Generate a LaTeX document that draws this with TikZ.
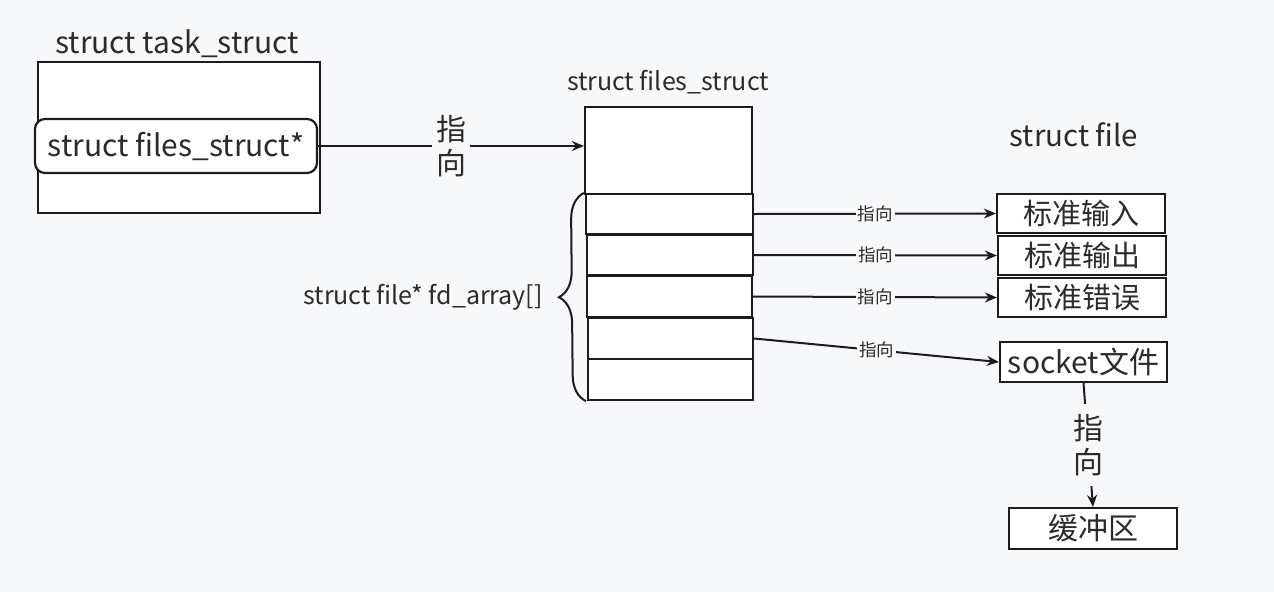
\documentclass[tikz,border=0pt]{standalone}
\usepackage{fontspec}
\setmainfont{Noto Sans CJK SC}
\usetikzlibrary{arrows.meta,decorations.pathreplacing}
\definecolor{bg}{HTML}{F7F8FA}
\definecolor{ln}{HTML}{1E1B1F}
\definecolor{tx}{HTML}{2B2B2B}
\begin{document}
\begin{tikzpicture}[x=1pt,y=-1pt,
  box/.style={draw=ln,line width=2.2pt,fill=white,inner sep=0pt,text=tx},
  lbl/.style={text=tx,inner sep=0pt},
  arr/.style={draw=ln,line width=2pt,-{Stealth[length=12pt,width=10pt]}},
  tag/.style={fill=bg,text=tx,inner sep=2pt,font=\fontsize{17.5}{20}\selectfont},
  vtag/.style={fill=bg,text=tx,inner xsep=4pt,inner ysep=10pt,align=center,font=\fontsize{30}{34}\selectfont},
  big/.style={font=\fontsize{30}{34}\selectfont},
  cn/.style={font=\fontsize{29}{32}\selectfont},
]
\fill[bg] (0,0) rectangle (1274,592);
\useasboundingbox (0,0) rectangle (1274,592);

% task_struct
\node[lbl,big] (tasktitle) at (177,44) {struct task\_struct};
\node[box,minimum width=282,minimum height=151] (task) at (179,137.5) {};
\node[box,big,rounded corners=10pt,minimum width=282,minimum height=54] (fptr) at (176,146) {struct files\_struct*};

% files_struct
\node[lbl,font=\fontsize{25}{28}\selectfont] (fstitle) at (668,82) {struct files\_struct};
\node[box,minimum width=167,minimum height=87] (fstop) at (668.5,150.5) {};
\node[box,minimum width=167,minimum height=40] (cell1) at (669.5,214) {};
\node[box,minimum width=166,minimum height=40] (cell2) at (670,255) {};
\node[box,minimum width=165,minimum height=41] (cell3) at (669.5,296.5) {};
\node[box,minimum width=165,minimum height=41] (cell4) at (670.5,338.5) {};
\node[box,minimum width=165,minimum height=41] (cell5) at (670.5,379.5) {};

\draw[ln,line width=2pt,decorate,decoration={brace,amplitude=26pt,aspect=0.5}]
  ([xshift=-1pt]cell5.south west) -- ([xshift=-1pt]cell1.north west);
\node[lbl,anchor=east,font=\fontsize{25}{28}\selectfont] (fdlbl) at (543,297) {struct file* fd\_array[]};

% struct file
\node[lbl,font=\fontsize{29.5}{33}\selectfont] (sftitle) at (1074,135) {struct file};
\node[box,cn,minimum width=168,minimum height=39] (stdin) at (1081,213.5) {标准输入};
\node[box,cn,minimum width=168,minimum height=39] (stdout) at (1082,255.5) {标准输出};
\node[box,cn,minimum width=168,minimum height=39] (stderr) at (1082,297.5) {标准错误};
\node[box,big,minimum width=167,minimum height=40] (sock) at (1083.5,362) {socket文件};
\node[box,font=\fontsize{30}{33}\selectfont,minimum width=168,minimum height=41] (buf) at (1093,528.5) {缓冲区};

% connectors
\draw[arr] (fptr.east) -- (fptr.east -| fstop.west) node[vtag,midway,inner ysep=0pt] {指\\向};
\draw[arr] (cell1.east) -- (stdin.west) node[tag,midway] {指向};
\draw[arr] (cell2.east) -- (stdout.west) node[tag,midway] {指向};
\draw[arr] (cell3.east) -- (stderr.west) node[tag,midway] {指向};
\draw[arr] (cell4.east) -- (sock.west) node[tag,midway] {指向};
\draw[arr] (sock.south) -- (buf.north) node[vtag,midway] {指\\向};
\end{tikzpicture}
\end{document}
